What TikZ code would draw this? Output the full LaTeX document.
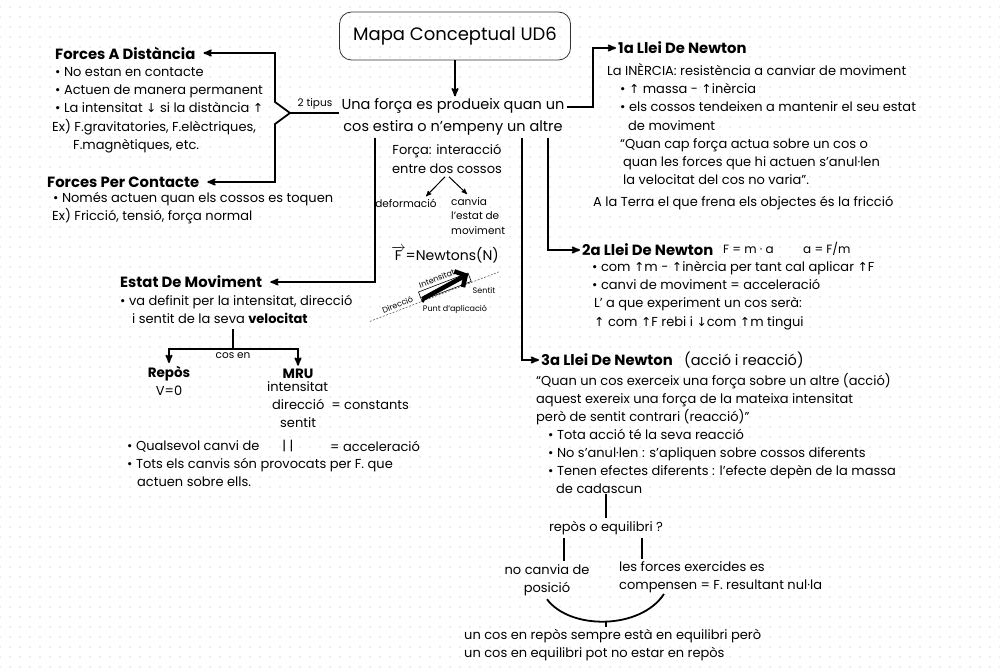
\documentclass[tikz,border=0pt]{standalone}
\usepackage{fontspec}
\setmainfont{Poppins}
\newfontfamily\arrowfont{DejaVu Sans}[Scale=0.95]
\usetikzlibrary{arrows,arrows.meta,positioning}

\newcommand{\upar}{{\arrowfont ↑}}
\newcommand{\dnar}{{\arrowfont ↓}}
\newcommand{\bodyfont}{\fontsize{13}{18.2}\selectfont}
\newcommand{\headfont}{\fontsize{14.8}{18}\selectfont\bfseries}
\newcommand{\leadfont}{\fontsize{14.5}{22}\selectfont}
\newcommand{\smallfont}{\fontsize{10.5}{14.5}\selectfont}
\newcommand{\tinyfont}{\fontsize{8}{9}\selectfont}
\newcommand{\titlefont}{\fontsize{18}{22}\selectfont}

\begin{document}
\begin{tikzpicture}[x=1pt, y=-1pt, >=stealth', font=\bodyfont,
                head/.style={anchor=west, inner sep=2pt, font=\headfont},
                line/.style={anchor=west, inner sep=2pt, font=\bodyfont},
                txt/.style={anchor=north west, inner sep=0pt, align=left, font=\bodyfont},
                conn/.style={line width=1.8pt},
                dotrow/.style={black!7, line width=1.6pt, dash pattern=on 1.6pt off 8.4pt, dash phase=0.8pt}]
                % background with dots
                \fill[white] (0,0) rectangle (1000,671);
                \useasboundingbox (0,0) rectangle (1000,671);
                \foreach \yy in {7,17,...,667}
                    \draw[dotrow] (0,\yy) -- (1000,\yy);

                % title and central idea
                \node[draw=black!80, rounded corners=12pt, minimum width=231pt, minimum height=48pt, line width=0.8pt, font=\titlefont] (title) at (455,36) {Mapa Conceptual UD6};
                \node[align=center, inner sep=2pt, font=\leadfont] (una) at (453,117) {Una força es produeix quan un\\cos estira o n’empeny un altre};
                \draw[conn,->] (title.south) -- (title.south |- una.north);

                % forces
                \node[head] (fad) at (53,53) {Forces A Distància};
                \node[txt] (b1) at (52,63.5) {\strut\hspace*{3pt}• No estan en contacte\\
                    \hspace*{3pt}• Actuen de manera permanent\\
                    \hspace*{3pt}• La intensitat \dnar\ si la distància \upar\\
                    Ex) F.gravitatories, F.elèctriques,\\
                    \hspace*{21pt}F.magnètiques, etc.};
                \node[head] (fpc) at (45,182) {Forces Per Contacte};
                \node[txt] (b2) at (52,189.5) {\strut\hspace*{1pt}• Només actuen quan els cossos es toquen\\
                    Ex) Fricció, tensió, força normal};
                \node[font=\smallfont] (tipus) at (315,104) {2 tipus};
                \coordinate (br) at (290,113);
                \draw[conn] (br -| una.west) -- (br);
                \draw[conn,<->,shorten <=6pt,shorten >=6pt] (fad) -| (275,102) -- (br) -- (275,124) |- (fpc);

                % force interaction
                \node[align=center] (fi) at (447,159) {Força: interacció\\entre dos cossos};
                \node[font=\smallfont] (def) at (406,203) {deformació};
                \node[txt, font=\smallfont] (can) at (451,195) {\strut canvia\\l’estat de\\moviment};
                \draw[->,line width=1pt] ([xshift=-2pt]fi.south) -- ([xshift=20pt,yshift=-1pt]def.north);
                \draw[->,line width=1pt] ([xshift=2pt]fi.south) -- ([xshift=16pt,yshift=1pt]can.north west);

                % vector
                \node[font=\fontsize{14}{16}\selectfont] (fn) at (445,255) {\(\overrightarrow{\hbox{F}}\)=Newtons(N)};
                \node[font=\tinyfont] (sen) at (484,290) {Sentit};
                \node[font=\tinyfont] (pa) at (455,309) {Punt d’aplicació};
                \begin{scope}[shift={(423,301)}, rotate=21]
                    \node[font=\tinyfont, rotate=21] (inten) at (21,-16) {Intensitat};
                    \node[font=\tinyfont, rotate=21] (dir) at (-25,-6) {Direcció};
                    \draw[black!70, line width=0.5pt, dash pattern=on 2pt off 1.5pt] (-57,0) -- (82,0);
                    \draw[line width=0.6pt] (-1,-1) rectangle (52,-10);
                    \draw[line width=4.5pt, -{Straight Barb[length=8pt,width=18pt]}] (0,-2) -- (52,-9);
                    \fill (0,0) circle (1.8);
                \end{scope}

                % estat de moviment
                \node[head] (edm) at (118,282) {Estat De Moviment};
                \coordinate (xa) at (375,0);
                \draw[conn,->,shorten >=6pt] (una.south -| xa) |- (edm);
                \node[txt] (b6) at (120,292.5) {\strut• va definit per la intensitat, direcció\\
                    \hspace*{12pt}i sentit de la seva \textbf{velocitat}\strut};
                \coordinate (fork) at (233,349);
                \draw[conn] (fork |- b6.south) -- (fork);
                \node[font=\smallfont] (cosen) at (233,356) {cos en};
                \node[font=\fontsize{13.5}{16}\selectfont\bfseries] (repos) at (169,374) {Repòs};
                \node (v0) at (169,391) {V=0};
                \node[font=\fontsize{13.5}{16}\selectfont\bfseries] (mru) at (298,374) {MRU};
                \draw[conn,->] (fork) -| (repos);
                \draw[conn,->] (fork) -| (mru);
                \node[txt] (mrub) at (267,378.5) {\strut intensitat\\
                    \hspace*{5pt}direcció \ = constants\\
                    \hspace*{13pt}sentit};
                \node[line] (qc) at (125,446) {• Qualsevol canvi de};
                \node (bars) at (288,446) {| |};
                \node[line] (acc) at (328,446) {= acceleració};
                \node[txt] (tots) at (127,455.5) {\strut• Tots els canvis són provocats per F. que\\
                    \hspace*{10pt}actuen sobre ells.};

                % 1a llei
                \node[head] (l1) at (616,48) {1a Llei De Newton};
                \coordinate (c1) at (593,107);
                \draw[conn,->] (c1 -| una.east) -- (c1) |- (l1);
                \node[txt] (b3) at (607,62.5) {\strut La INÈRCIA: resistència a canviar de moviment\\
                    \hspace*{13pt}• \upar\ massa - \upar inèrcia\\
                    \hspace*{13pt}• els cossos tendeixen a mantenir el seu estat\\
                    \hspace*{21pt}de moviment\\
                    \hspace*{13pt}“Quan cap força actua sobre un cos o\\
                    \hspace*{16pt}quan les forces que hi actuen s’anul·len\\
                    \hspace*{16pt}la velocitat del cos no varia”.};
                \node[line] (terra) at (591,203) {A la Terra el que frena els objectes és la fricció};

                % 2a llei
                \node[head] (l2) at (580,250) {2a Llei De Newton};
                \coordinate (xb) at (548,0);
                \draw[conn,->] (una.south -| xb) |- (l2);
                \node[line, font=\fontsize{12}{14}\selectfont] (fma) at (721,249) {F = m · a};
                \node[line, font=\fontsize{12}{14}\selectfont] (afm) at (801,249) {a = F/m};
                \node[txt] (b4) at (592,258.5) {\strut• com \upar m - \upar inèrcia per tant cal aplicar \upar F\\
                    • canvi de moviment = acceleració\\
                    \hspace*{2pt}L’ a que experiment un cos serà:\\
                    \hspace*{2pt}\upar\ com \upar F rebi i \dnar com \upar m tingui};

                % 3a llei
                \node[head] (l3) at (539,360) {3a Llei De Newton};
                \coordinate (xc) at (522,0);
                \draw[conn,->] (una.south -| xc) |- (l3);
                \node[line, font=\leadfont] (ar) at (682,360) {(acció i reacció)};
                \node[txt, font=\fontsize{13}{18}\selectfont] (b5) at (536,372.5) {\strut“Quan un cos exerceix una força sobre un altre (acció)\\
                    aquest exereix una força de la mateixa intensitat\\
                    però de sentit contrari (reacció)”\\
                    \hspace*{12pt}• Tota acció té la seva reacció\\
                    \hspace*{12pt}• No s’anul·len : s’apliquen sobre cossos diferents\\
                    \hspace*{12pt}• Tenen efectes diferents : l’efecte depèn de la massa\\
                    \hspace*{20pt}de cadascun};

                % repos o equilibri
                \node (q) at (606,528) {repòs o equilibri ?};
                \draw[conn] (b5.south -| q) -- (q);
                \node[align=center] (nc) at (547,580) {no canvia de\\posició};
                \node[txt] (lf) at (619,558.5) {\strut les forces exercides es\\compensen = F. resultant nul·la};
                \coordinate (xd) at (564,0);
                \coordinate (xe) at (642,0);
                \draw[conn] (q.south -| xd) -- (nc.north -| xd);
                \draw[conn] (q.south -| xe) -- (lf.north -| xe);
                \coordinate (cr) at (664,594);
                \coordinate (cb) at (606,621);
                \draw[conn] (nc.south) .. controls (570,630) and (640,630) .. (cr);
                \node[txt] (fin) at (464,626.5) {\strut un cos en repòs sempre està en equilibri però\\
                    un cos en equilibri pot no estar en repòs};
                \draw[conn] (cb) -- (cb |- fin.north);
\end{tikzpicture}
\end{document}
